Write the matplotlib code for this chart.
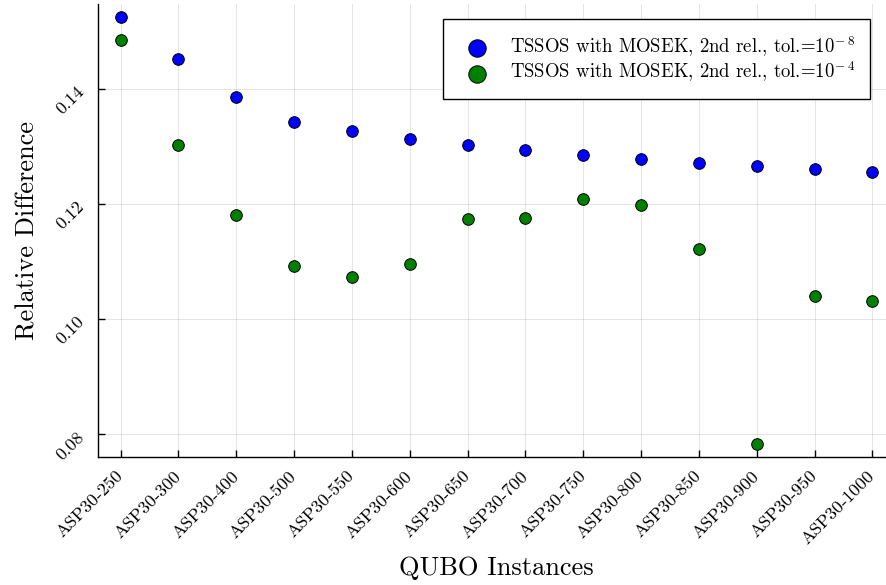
"""
Relative difference of TSSOS/MOSEK bounds on the ASP30 QUBO instances.
"""

import numpy as np
import matplotlib
matplotlib.use('Agg')
import matplotlib.pyplot as plt


instances = ['ASP30-250', 'ASP30-300', 'ASP30-400', 'ASP30-500', 'ASP30-550',
             'ASP30-600', 'ASP30-650', 'ASP30-700', 'ASP30-750', 'ASP30-800',
             'ASP30-850', 'ASP30-900', 'ASP30-950', 'ASP30-1000']

# tol = 1e-8
rel_diff_tol8 = [0.1526, 0.1453, 0.1386, 0.1343, 0.1328, 0.1314, 0.1304,
                 0.1294, 0.1286, 0.1279, 0.1272, 0.1267, 0.1261, 0.1257]
# tol = 1e-4
rel_diff_tol4 = [0.1486, 0.1304, 0.1181, 0.1093, 0.1074, 0.1096, 0.1175,
                 0.1177, 0.1209, 0.1199, 0.1122, 0.0783, 0.1040, 0.1032]

y_ticks = [0.08, 0.10, 0.12, 0.14]

label_tol8 = r'TSSOS with MOSEK, 2nd rel., tol.=10$^{-\;8}$'
label_tol4 = r'TSSOS with MOSEK, 2nd rel., tol.=10$^{-\;4}$'


def main():
    plt.rcParams['font.family'] = ['cmr10', 'DejaVu Serif']
    plt.rcParams['mathtext.fontset'] = 'cm'
    plt.rcParams['axes.formatter.use_mathtext'] = True

    W, H = 886, 585
    fig = plt.figure(figsize=(W / 100, H / 100), dpi=100)
    # axes run a bit past the right edge, like the original export
    left, right, top, bottom = 98, 895, 4, 457
    ax = fig.add_axes([left / W, 1 - bottom / H, (right - left) / W, (bottom - top) / H])

    x = np.arange(1, len(instances) + 1)
    ax.scatter(x, rel_diff_tol8, s=70, color='#0000ff', edgecolor='black',
               linewidth=0.7, zorder=3, label=label_tol8)
    ax.scatter(x, rel_diff_tol4, s=70, color='#008000', edgecolor='black',
               linewidth=0.7, zorder=3, label=label_tol4)

    # Plots.jl style 3% widening
    lo = min(min(rel_diff_tol8), min(rel_diff_tol4))
    hi = max(max(rel_diff_tol8), max(rel_diff_tol4))
    pad = 0.03 * (hi - lo)
    ax.set_ylim(lo - pad, hi + pad)
    ax.set_xlim(1 - 0.03 * (len(x) - 1), len(x) + 0.03 * (len(x) - 1))

    ax.set_xticks(x)
    ax.set_xticklabels(instances, rotation=45, ha='right', va='center',
                       rotation_mode='anchor', fontsize=13)
    ax.set_yticks(y_ticks)
    ax.set_yticklabels([f'{v:.2f}' for v in y_ticks], rotation=45, ha='right',
                       va='center', rotation_mode='anchor', fontsize=13)
    ax.tick_params(direction='in', length=5, width=1)
    ax.tick_params(axis='y', pad=12)
    ax.tick_params(axis='x', pad=12)

    ax.grid(True, color='black', alpha=0.1, linewidth=0.8)
    ax.set_axisbelow(True)
    for side in ['top', 'right']:
        ax.spines[side].set_visible(False)
    for side in ['left', 'bottom']:
        ax.spines[side].set_linewidth(1.0)

    ax.set_xlabel('QUBO Instances', fontsize=19, va='center')
    ax.set_ylabel('Relative Difference', fontsize=19, va='center')
    ax.xaxis.set_label_coords(0.5, -(568 - bottom) / (bottom - top))
    ax.yaxis.set_label_coords(-(left - 28) / (right - left), 0.5)

    leg = ax.legend(loc='upper left', bbox_to_anchor=(443 / W, 1 - 19 / H),
                    bbox_transform=fig.transFigure, fontsize=13.5,
                    markerscale=1.5, fancybox=False, framealpha=1,
                    edgecolor='black', borderpad=0.8, handletextpad=0.75,
                    labelspacing=0.05, borderaxespad=0)
    leg.get_frame().set_linewidth(1.0)

    fig.savefig('out.png', dpi=100)


if __name__ == "__main__":
    main()
